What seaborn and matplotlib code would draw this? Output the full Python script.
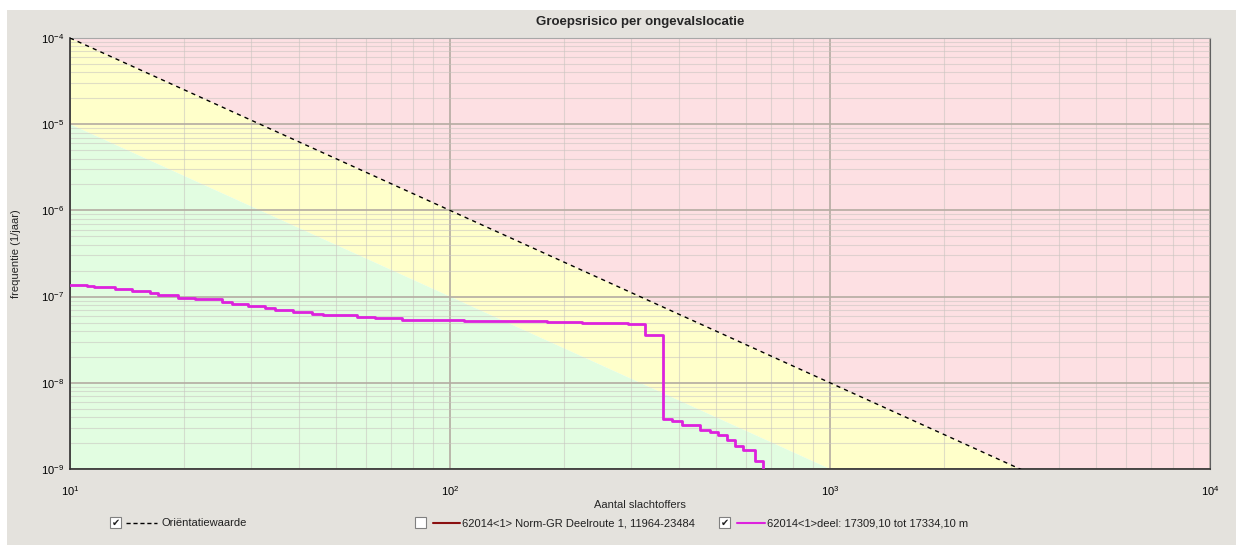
import numpy as np
import pandas as pd
import seaborn as sns
import matplotlib
matplotlib.use("Agg")
import matplotlib.pyplot as plt
from matplotlib.patches import Rectangle
from matplotlib.lines import Line2D
from matplotlib.ticker import LogLocator, NullFormatter, FixedLocator

# ---------------- data ----------------
# Orientatiewaarde (norm line): frequency = 1e-2 / N^2
ov_n = [10, 100, 1000, 10000]
ov_f = [1e-4, 1e-6, 1e-8, 1e-10]
green_factor = 0.1  # lower boundary of yellow band (factor 10 below norm)

# FN curve 62014<1>deel: 17309,10 tot 17334,10 m (step, post)
fn_n = [10, 11.1, 11.6, 13.1, 14.6, 16.2, 17.0, 19.2, 21.3, 25.1, 26.7, 29.4,
        32.6, 34.6, 38.6, 43.4, 46.3, 56.9, 63.5, 74.8, 109, 180, 222, 294,
        326, 364, 384, 408, 455, 483, 507, 536, 562, 591, 635, 666]
fn_f = [1.37e-7, 1.33e-7, 1.28e-7, 1.23e-7, 1.15e-7, 1.10e-7, 1.03e-7, 9.7e-8,
        9.4e-8, 8.6e-8, 8.1e-8, 7.7e-8, 7.4e-8, 6.9e-8, 6.6e-8, 6.3e-8, 6.05e-8,
        5.8e-8, 5.65e-8, 5.4e-8, 5.26e-8, 5.08e-8, 4.9e-8, 4.77e-8, 3.55e-8,
        3.8e-9, 3.6e-9, 3.25e-9, 2.84e-9, 2.7e-9, 2.5e-9, 2.17e-9, 1.85e-9,
        1.66e-9, 1.24e-9, 1e-10]

x_ticks = [10, 100, 1000, 10000]
y_ticks = [1e-9, 1e-8, 1e-7, 1e-6, 1e-5, 1e-4]

title = "Groepsrisico per ongevalslocatie"
xlabel = "Aantal slachtoffers"
ylabel = "frequentie (1/jaar)"
legend_labels = ["Oriëntatiewaarde",
                 "62014<1> Norm-GR Deelroute 1, 11964-23484",
                 "62014<1>deel: 17309,10 tot 17334,10 m"]
legend_checked = [True, False, True]

# ---------------- style ----------------
sns.set_style("white")
plt.rcParams['font.family'] = ['Liberation Sans', 'DejaVu Sans']
plt.rcParams['mathtext.fontset'] = 'custom'
plt.rcParams['mathtext.rm'] = 'Liberation Sans'

W, H = 1241, 550
fig = plt.figure(figsize=(W / 100, H / 100), dpi=100, facecolor='white')

# gray panel background
bg = fig.add_axes([0, 0, 1, 1], zorder=-10)
bg.set_xlim(0, W); bg.set_ylim(H, 0); bg.axis('off')
bg.add_patch(Rectangle((7, 10), 1229, 535, facecolor='#e4e2dd', edgecolor='none'))

L, R, T, B = 70, 1210, 38, 469
ax = fig.add_axes([L / W, 1 - B / H, (R - L) / W, (B - T) / H])
ax.set_xscale('log'); ax.set_yscale('log')
ax.set_xlim(10, 1e4); ax.set_ylim(1e-9, 1e-4)

ov_n_arr = np.array(ov_n, dtype=float)
ov_f_arr = np.array(ov_f, dtype=float)
ax.fill_between(ov_n_arr, ov_f_arr, 1e-2, color='#fde0e3', lw=0, zorder=0.2)
ax.fill_between(ov_n_arr, ov_f_arr * green_factor, ov_f_arr, color='#ffffca', lw=0, zorder=0.2)
ax.fill_between(ov_n_arr, 1e-14, ov_f_arr * green_factor, color='#e2fde1', lw=0, zorder=0.2)

ax.set_axisbelow('line')
ax.xaxis.set_major_locator(FixedLocator(x_ticks))
ax.yaxis.set_major_locator(FixedLocator(y_ticks))
ax.xaxis.set_minor_locator(LogLocator(base=10, subs=np.arange(2, 10)))
ax.yaxis.set_minor_locator(LogLocator(base=10, subs=np.arange(2, 10), numticks=20))
ax.xaxis.set_minor_formatter(NullFormatter()); ax.yaxis.set_minor_formatter(NullFormatter())
ax.grid(True, which='major', color='#b4aca2', lw=1.2)
ax.grid(True, which='minor', color='#c8c4c0', lw=0.8, alpha=0.55)

df_ov = pd.DataFrame({'n': ov_n, 'f': ov_f})
sns.lineplot(data=df_ov, x='n', y='f', ax=ax, color='black', lw=1.0,
             estimator=None, zorder=3)
ax.lines[-1].set_dashes([3, 3])

df_fn = pd.DataFrame({'n': fn_n, 'f': fn_f})
sns.lineplot(data=df_fn, x='n', y='f', ax=ax, color='#dd22dd', lw=2.0,
             estimator=None, drawstyle='steps-post', zorder=4)
ax.set_xlim(10, 1e4); ax.set_ylim(1e-9, 1e-4)

ax.tick_params(which='both', length=0, labelsize=8, colors='black')
ax.tick_params(axis='x', pad=11)
ax.tick_params(axis='y', pad=4)

for s in ['left', 'bottom']:
    ax.spines[s].set_color('#303030'); ax.spines[s].set_linewidth(1.2)
ax.spines['top'].set_color('#a8a8a8')
ax.spines['right'].set_color('#606060')

ax.set_title(title, fontsize=9.5, fontweight='bold', pad=9)
ax.set_xlabel(xlabel, fontsize=8)
ax.xaxis.set_label_coords(0.5, -0.072)
ax.set_ylabel(ylabel, fontsize=8)
ax.yaxis.set_label_coords(-0.043, 0.5)

# ---------------- legend (custom, with checkboxes) ----------------
ov = fig.add_axes([0, 0, 1, 1], zorder=10)
ov.set_xlim(0, W); ov.set_ylim(H, 0); ov.axis('off')
ly = 523
items = [
    dict(box=110, line=(126, 157), color='black', dashes=[3, 2], text=161),
    dict(box=415, line=(433, 460), color='#8b1010', dashes=None, text=462),
    dict(box=719, line=(737, 765), color='#dd22dd', dashes=None, text=767),
]
for it, lab, chk in zip(items, legend_labels, legend_checked):
    ov.add_patch(Rectangle((it['box'], ly - 6), 11, 11, facecolor='white',
                           edgecolor='#808080', lw=0.8))
    if chk:
        ov.text(it['box'] + 5.5, ly, '✔', fontsize=7, ha='center', va='center',
                family='DejaVu Sans', color='#202020')
    ln = Line2D(list(it['line']), [ly, ly], color=it['color'], lw=1.5)
    if it['dashes']:
        ln.set_dashes(it['dashes']); ln.set_linewidth(1.0)
    ov.add_line(ln)
    ov.text(it['text'], ly, lab, fontsize=8, ha='left', va='center', color='#202020')

fig.savefig('out.png', dpi=100, facecolor=fig.get_facecolor())
